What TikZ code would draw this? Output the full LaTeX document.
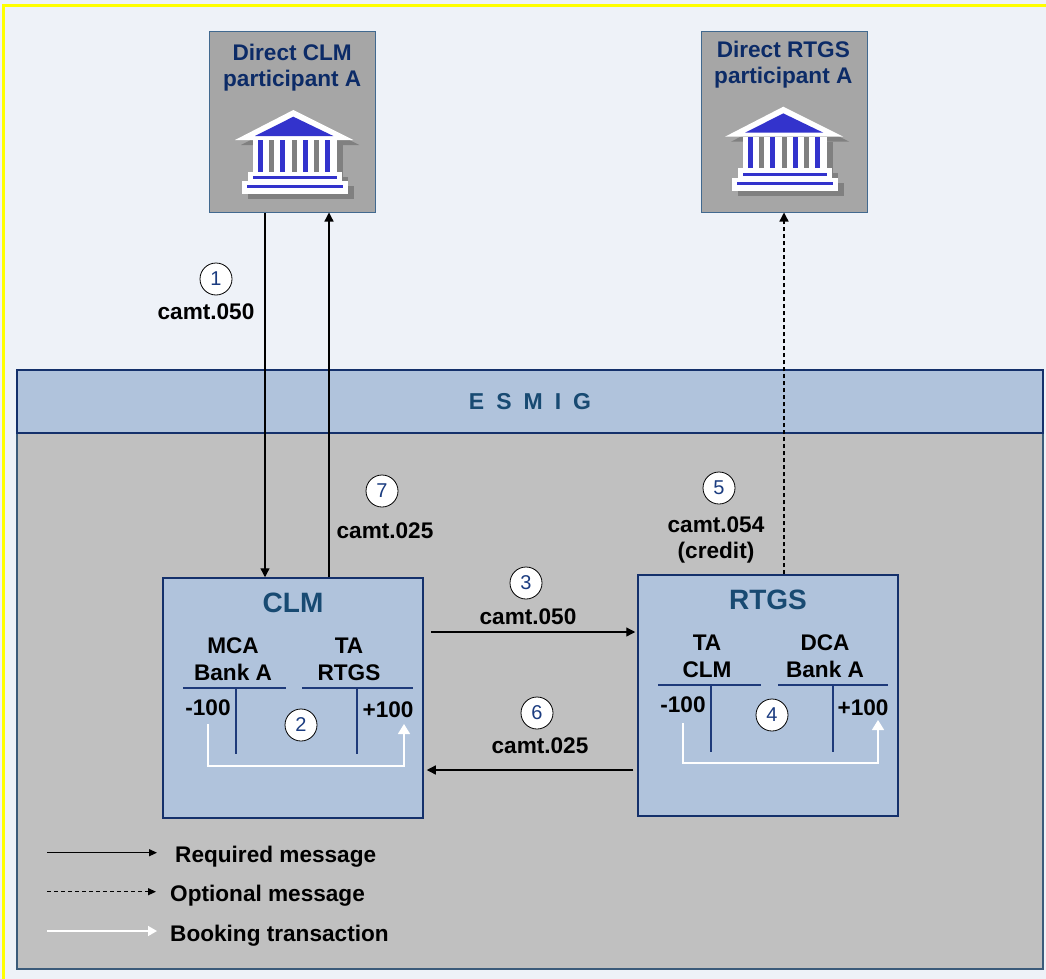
\documentclass[tikz,border=0pt]{standalone}
\usepackage{fontspec}
\setmainfont{Liberation Sans}
\usetikzlibrary{arrows.meta,calc}
\definecolor{bgc}{HTML}{EEF2F8}
\definecolor{yel}{HTML}{FFFF00}
\definecolor{pfill}{HTML}{A6A6A6}
\definecolor{pdraw}{HTML}{41698F}
\definecolor{lbfill}{HTML}{B0C3DC}
\definecolor{lbdraw}{HTML}{14306B}
\definecolor{grayarea}{HTML}{C0C0C0}
\definecolor{grayedge}{HTML}{3B5B7A}
\definecolor{titlec}{HTML}{184A72}
\definecolor{navyt}{HTML}{0C2B67}
\definecolor{numc}{HTML}{1B3C80}
\definecolor{tline}{HTML}{1E3A7A}
\definecolor{iconblue}{HTML}{3333CC}
\definecolor{shadowg}{HTML}{808080}
\tikzset{
  pics/bank/.style={code={
    \begin{scope}[shift={(6,5)}]
      \fill[shadowg] (-58.3,30) -- (0,0) -- (60,30) -- cycle;
      \fill[shadowg] (-40,30) rectangle (43.4,61.7);
      \fill[shadowg] (-45,61.7) rectangle (48.4,71);
      \fill[shadowg] (-51.6,71) rectangle (55,84.3);
    \end{scope}
    \fill[white] (-58.3,30) -- (0,0) -- (60,30) -- cycle;
    \fill[iconblue] (-38.3,26) -- (0,6.7) -- (40,26) -- cycle;
    \fill[white] (-40,30) rectangle (43.4,61.7);
    \foreach \c in {-32.5,-10.5,11.9,33.9}{\fill[iconblue] (\c-2.6,30) rectangle (\c+2.6,61.7);}
    \foreach \c in {-21.5,0.9,22.9}{\fill[shadowg] (\c-2.6,30) rectangle (\c+2.6,61.7);}
    \fill[white] (-45,61.7) rectangle (48.4,71);
    \fill[iconblue] (-40,66) rectangle (43.4,69);
    \fill[white] (-51.6,71) rectangle (55,84.3);
    \fill[iconblue] (-46,75) rectangle (49.4,78.3);
  }},
  pbox/.style={draw=pdraw, line width=1pt, fill=pfill, inner sep=0},
  lbox/.style={draw=lbdraw, line width=1.5pt, fill=lbfill, inner sep=0},
  garea/.style={draw=grayedge, line width=1.2pt, fill=grayarea, inner sep=0},
  lbl/.style={font=\fontsize{22.6}{27}\selectfont\bfseries, align=center, inner sep=0},
  twol/.style={font=\fontsize{22.6}{26}\selectfont\bfseries},
  ttl/.style={font=\fontsize{28}{32}\selectfont\bfseries, text=titlec, inner sep=0},
  num/.style={circle, draw=black, line width=0.8pt, fill=white, minimum size=32pt, inner sep=0, font=\fontsize{20}{20}\selectfont, text=numc},
  req/.style={draw=black, line width=1.3pt, -{Triangle[length=9pt,width=9pt]}},
  opt/.style={req, dash pattern=on 4pt off 3pt},
  book/.style={draw=white, line width=1.5pt, -{Triangle[length=10pt,width=12pt]}},
  small/.style={-{Triangle[length=8pt,width=7pt]}},
  tl/.style={draw=tline, line width=1.6pt},
}
\begin{document}
\begin{tikzpicture}[x=1pt,y=-1pt]
\useasboundingbox (0,0) rectangle (1046,979);
\fill[bgc] (0,0) rectangle (1046,979);
\fill[yel] (2,4) rectangle (1046,7);
\fill[yel] (2,4) rectangle (5,979);

% participants
\node[pbox, minimum width=166pt, minimum height=180pt] (partA) at (292,122) {};
\node[lbl, twol, text=navyt] (partAt) at (292.2,68) {Direct CLM\\participant A};
\pic at (293.3,110) {bank};
\node[pbox, minimum width=166pt, minimum height=180pt] (partB) at (784,122) {};
\node[lbl, twol, text=navyt] (partBt) at (783.3,65) {Direct RTGS\\participant A};
\pic at (783.3,106.7) {bank};

% ESMIG area
\node[garea, minimum width=1026pt, minimum height=599pt] (garea) at (530,669.5) {};
\node[lbox, minimum width=1026pt, minimum height=63pt, font=\fontsize{23}{26}\selectfont\bfseries, text=titlec] (esmig) at (530,401.5) {E\hspace{12pt}S\hspace{12pt}M\hspace{12pt}I\hspace{12pt}G};

% CLM
\node[lbox, minimum width=260pt, minimum height=240pt] (clm) at (293,698) {};
\node[ttl] (clmt) at (293,603) {CLM};
\node[lbl] (mca) at (233,659.5) {MCA\\Bank A};
\node[lbl] (tartgs) at (349,659.5) {TA\\RTGS};
\draw[tl] (183,688) -- (286,688);
\draw[tl] (302,688) -- (413,688);
\draw[tl] (236,688) -- (236,754);
\draw[tl] (357,688) -- (357,754);
\node[lbl] (m1) at (208,707.5) {-100};
\node[lbl] (p1) at (388,710) {+100};
\coordinate (b1s) at (208,724);
\coordinate (b1e) at (404,724);
\draw[book] (b1s) -- (208,766) -- (404,766) -- (b1e);

% RTGS
\node[lbox, minimum width=260pt, minimum height=241pt] (rtgs) at (768,695.5) {};
\node[ttl] (rtgst) at (768,600) {RTGS};
\node[lbl] (taclm) at (707,656.5) {TA\\CLM};
\node[lbl] (dca) at (825,656.5) {DCA\\Bank A};
\draw[tl] (658,685) -- (761,685);
\draw[tl] (778,685) -- (888,685);
\draw[tl] (711,685) -- (711,752);
\draw[tl] (833,685) -- (833,752);
\node[lbl] (m2) at (683,705) {-100};
\node[lbl] (p2) at (863,707.5) {+100};
\coordinate (b2s) at (683,723);
\coordinate (b2e) at (878,720);
\draw[book] (b2s) -- (683,763) -- (878,763) -- (b2e);

% messages
\coordinate (x1) at (265,0);
\coordinate (x7) at (329,0);
\coordinate (x5) at (784,0);
\coordinate (y3) at (0,632);
\coordinate (y6) at (0,770);
\draw[req] (partA.south -| x1) -- (clm.north -| x1);
\draw[req] (clm.north -| x7) -- (partA.south -| x7);
\draw[opt] (rtgs.north -| x5) -- (partB.south -| x5);
\draw[req, shorten <=7pt, shorten >=2pt] (clm.east |- y3) -- (rtgs.west |- y3);
\draw[req, shorten <=4pt, shorten >=3pt] (rtgs.west |- y6) -- (clm.east |- y6);

% numbers and labels
\node[num] (n1) at (216,279) {1};
\node[num] (n2) at (301,725) {2};
\node[num] (n3) at (526,583) {3};
\node[num] (n4) at (772,715) {4};
\node[num] (n5) at (719,488) {5};
\node[num] (n6) at (537,713) {6};
\node[num] (n7) at (382,491) {7};
\node[lbl] (c1) at (206,311.5) {camt.050};
\node[lbl] (c7) at (385,530.5) {camt.025};
\node[lbl, twol] (c5) at (716,540) {camt.054\\(credit)};
\node[lbl] (c3) at (528,617) {camt.050};
\node[lbl] (c6) at (540,746) {camt.025};

% legend
\coordinate (l1a) at (47,852.7); \coordinate (l1b) at (157,852.7);
\coordinate (l2a) at (47,891.7); \coordinate (l2b) at (156,891.7);
\coordinate (l3a) at (47,931); \coordinate (l3b) at (157,931);
\draw[req, small] (l1a) -- (l1b);
\draw[opt, small] (l2a) -- (l2b);
\draw[book, -{Triangle[length=9pt,width=10pt]}] (l3a) -- (l3b);
\node[lbl, anchor=base west] (t1) at (175,862) {Required message};
\node[lbl, anchor=base west] (t2) at (170,901.7) {Optional message};
\node[lbl, anchor=base west] (t3) at (170,941.7) {Booking transaction};
\end{tikzpicture}
\end{document}
